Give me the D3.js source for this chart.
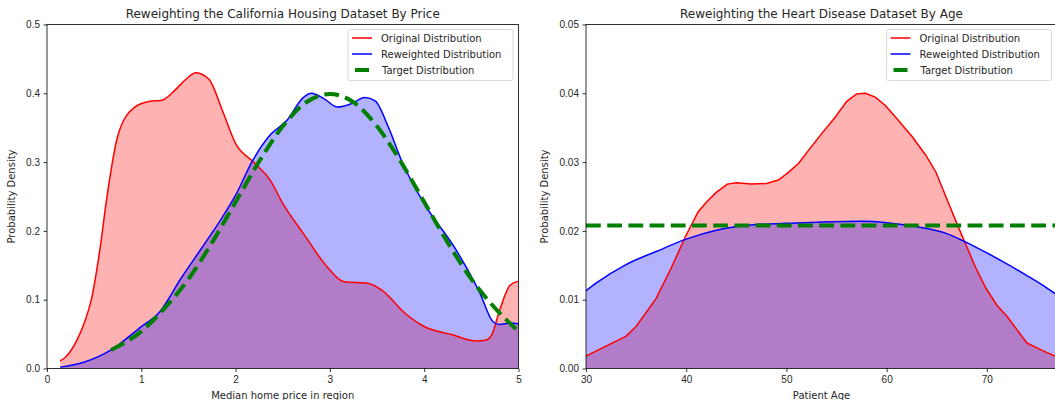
<!DOCTYPE html>
<html>
<head>
<meta charset="utf-8">
<title>Reweighting distributions</title>
<style>
  body { margin: 0; background: #fff; }
  svg { display: block; font-family: "DejaVu Sans", sans-serif; }
  .tick text { font-size: 10px; fill: #262626; }
  .tick line { stroke: #000; stroke-width: 0.8; }
  .domain { display: none; }
</style>
</head>
<body>
<svg width="1055" height="400"></svg>
<script src="https://d3js.org/d3.v7.min.js"></script>
<script>
// California housing (price, in $100k)
var housingOrigX = [0.14, 0.2, 0.32, 0.4, 0.47, 0.56, 0.63, 0.75, 0.93, 1.08, 1.22, 1.36, 1.47, 1.58, 1.72, 1.86, 2.0, 2.19, 2.37, 2.5, 2.72, 2.97, 3.15, 3.4, 3.55, 3.8, 4.0, 4.3, 4.55, 4.65, 4.72, 4.8, 4.91, 5.0];
var housingOrigY = [0.011, 0.017, 0.042, 0.068, 0.1, 0.172, 0.244, 0.338, 0.38, 0.388, 0.39, 0.405, 0.42, 0.43, 0.42, 0.375, 0.327, 0.3, 0.273, 0.24, 0.196, 0.148, 0.126, 0.124, 0.114, 0.08, 0.061, 0.049, 0.04, 0.041, 0.05, 0.085, 0.121, 0.127];
var housingReweightX = [0.14, 0.39, 0.68, 1.0, 1.18, 1.43, 1.65, 1.86, 2.0, 2.18, 2.37, 2.54, 2.72, 2.8, 2.94, 3.08, 3.23, 3.37, 3.48, 3.62, 3.76, 3.98, 4.34, 4.59, 4.73, 4.8, 4.91, 5.0];
var housingReweightY = [0.002, 0.009, 0.027, 0.061, 0.08, 0.133, 0.177, 0.22, 0.252, 0.302, 0.34, 0.36, 0.394, 0.4, 0.392, 0.38, 0.385, 0.394, 0.389, 0.351, 0.302, 0.244, 0.172, 0.11, 0.068, 0.064, 0.066, 0.065];
var housingTargetX = [0.68, 1.0, 1.25, 1.5, 1.75, 2.0, 2.25, 2.5, 2.75, 3.0, 3.25, 3.5, 3.75, 4.0, 4.25, 4.5, 4.75, 5.0];
var housingTargetY = [0.027, 0.054, 0.088, 0.13, 0.183, 0.242, 0.301, 0.352, 0.387, 0.399, 0.387, 0.352, 0.301, 0.242, 0.183, 0.13, 0.088, 0.054];
var housingXTicks = [0, 1, 2, 3, 4, 5];
var housingYTicks = [0, 0.1, 0.2, 0.3, 0.4, 0.5];

// Heart disease (age)
var heartOrigX = [30, 34, 35, 37, 38.5, 40, 41.2, 42.1, 43, 44.1, 45, 46.5, 48, 49.2, 50.2, 51.2, 52.2, 53.5, 54.9, 56, 57, 57.9, 58.9, 59.9, 61.2, 62.6, 63.9, 64.9, 66.1, 67.2, 68.2, 68.9, 69.9, 71, 72, 74, 75, 76, 77];
var heartOrigY = [0.0018, 0.0047, 0.0061, 0.0102, 0.0146, 0.0194, 0.0228, 0.0243, 0.0256, 0.0268, 0.027, 0.0268, 0.0269, 0.0274, 0.0285, 0.0298, 0.0317, 0.0341, 0.0366, 0.0388, 0.0399, 0.04, 0.0394, 0.0382, 0.036, 0.0336, 0.031, 0.0286, 0.0243, 0.0204, 0.017, 0.0146, 0.0117, 0.0092, 0.0076, 0.0037, 0.003, 0.0023, 0.0017];
var heartReweightX = [30, 31, 34, 37, 40, 43, 46.7, 50, 53.5, 57.5, 60, 63, 66, 68, 70, 72, 74, 76, 77];
var heartReweightY = [0.0113, 0.0124, 0.0151, 0.017, 0.0188, 0.0201, 0.0209, 0.0211, 0.0213, 0.0214, 0.0212, 0.0206, 0.0196, 0.0183, 0.0168, 0.0152, 0.0135, 0.0117, 0.0107];
var heartTargetX = [30, 77];
var heartTargetY = [0.0208, 0.0208];
var heartXTicks = [30, 40, 50, 60, 70];
var heartYTicks = [0, 0.01, 0.02, 0.03, 0.04, 0.05];

var seriesNames = ["Original Distribution", "Reweighted Distribution", "Target Distribution"];

var svg = d3.select("svg");
var top_ = 24.5, bottom = 368.5;

function zip(xs, ys) {
    return xs.map(function(x, i) { return {x: x, y: ys[i]}; });
}

function drawPanel(cfg) {
    var x = d3.scaleLinear().domain(cfg.xDomain).range([cfg.left, cfg.right]);
    var y = d3.scaleLinear().domain(cfg.yDomain).range([bottom, top_]);
    var g = svg.append("g");

    var clipId = "clip" + cfg.id;
    svg.append("clipPath").attr("id", clipId)
        .append("rect")
        .attr("x", cfg.left).attr("y", top_)
        .attr("width", cfg.right - cfg.left).attr("height", bottom - top_);

    var plot = g.append("g").attr("clip-path", "url(#" + clipId + ")");

    var area = d3.area().x(d => x(d.x)).y0(y(0)).y1(d => y(d.y)).curve(cfg.curveOrig);
    var areaRw = d3.area().x(d => x(d.x)).y0(y(0)).y1(d => y(d.y)).curve(cfg.curveRw);
    var line = d3.line().x(d => x(d.x)).y(d => y(d.y)).curve(cfg.curveOrig);
    var lineRw = d3.line().x(d => x(d.x)).y(d => y(d.y)).curve(cfg.curveRw);
    var lineT = d3.line().x(d => x(d.x)).y(d => y(d.y)).curve(d3.curveMonotoneX);

    var orig = zip(cfg.origX, cfg.origY);
    var rw = zip(cfg.rwX, cfg.rwY);
    var tgt = zip(cfg.tX, cfg.tY);

    plot.append("path").attr("d", area(orig)).attr("fill", "red").attr("fill-opacity", 0.3);
    plot.append("path").attr("d", areaRw(rw)).attr("fill", "blue").attr("fill-opacity", 0.3);
    plot.append("path").attr("d", line(orig)).attr("fill", "none").attr("stroke", "red").attr("stroke-width", 1.5);
    plot.append("path").attr("d", lineRw(rw)).attr("fill", "none").attr("stroke", "blue").attr("stroke-width", 1.5);
    plot.append("path").attr("d", lineT(tgt)).attr("fill", "none").attr("stroke", "green")
        .attr("stroke-width", 4).attr("stroke-dasharray", "14.8 6.4");

    // axes
    g.append("g").attr("transform", "translate(0," + bottom + ")")
        .call(d3.axisBottom(x).tickValues(cfg.xTicks).tickSize(3.5).tickPadding(3.5).tickFormat(d3.format("d")));
    g.append("g").attr("transform", "translate(" + cfg.left + ",0)")
        .call(d3.axisLeft(y).tickValues(cfg.yTicks).tickSize(3.5).tickPadding(3.5).tickFormat(d3.format(cfg.yFmt)));

    // spines
    g.append("rect").attr("x", cfg.left).attr("y", top_)
        .attr("width", cfg.right - cfg.left).attr("height", bottom - top_)
        .attr("fill", "none").attr("stroke", "#000").attr("stroke-width", 0.8);

    var cx = (cfg.left + cfg.right) / 2;
    g.append("text").attr("x", cx).attr("y", 18).attr("text-anchor", "middle")
        .attr("font-size", 12).attr("fill", "#262626").text(cfg.title);
    g.append("text").attr("x", cx).attr("y", 399).attr("text-anchor", "middle")
        .attr("font-size", 10).attr("fill", "#262626").text(cfg.xLabel);
    g.append("text").attr("transform", "translate(" + cfg.yLabelX + "," + ((top_ + bottom) / 2) + ") rotate(-90)")
        .attr("text-anchor", "middle").attr("font-size", 10).attr("fill", "#262626").text("Probability Density");

    // legend
    var lw = 165, lh = 51;
    var lx = cfg.legendRight - lw, ly = top_ + 5;
    var leg = g.append("g");
    leg.append("rect").attr("x", lx).attr("y", ly).attr("width", lw).attr("height", lh)
        .attr("rx", 2).attr("fill", "#fff").attr("fill-opacity", 0.8)
        .attr("stroke", "#d0d0d0").attr("stroke-width", 0.8);
    var colors = ["red", "blue", "green"];
    seriesNames.forEach(function(name, i) {
        var ry = ly + 8.5 + i * 16;
        if (i < 2) {
            leg.append("line").attr("x1", lx + 4).attr("x2", lx + 24).attr("y1", ry).attr("y2", ry)
                .attr("stroke", colors[i]).attr("stroke-width", 1.5);
        } else {
            leg.append("line").attr("x1", lx + 7).attr("x2", lx + 21).attr("y1", ry).attr("y2", ry)
                .attr("stroke", colors[i]).attr("stroke-width", 4);
        }
        leg.append("text").attr("x", lx + 33 + (i == 2 ? 1 : 0)).attr("y", ry + 3.6)
            .attr("font-size", 10).attr("fill", "#262626").text(name);
    });
}

drawPanel({
    id: 1, left: 47, right: 518.5,
    xDomain: [0, 5], yDomain: [0, 0.5],
    origX: housingOrigX, origY: housingOrigY,
    rwX: housingReweightX, rwY: housingReweightY,
    tX: housingTargetX, tY: housingTargetY,
    curveOrig: d3.curveMonotoneX, curveRw: d3.curveMonotoneX,
    xTicks: housingXTicks, yTicks: housingYTicks, yFmt: ".1f",
    title: "Reweighting the California Housing Dataset By Price",
    xLabel: "Median home price in region", yLabelX: 15,
    legendRight: 513
});

drawPanel({
    id: 2, left: 586, right: 1057,
    xDomain: [30, 77], yDomain: [0, 0.05],
    origX: heartOrigX, origY: heartOrigY,
    rwX: heartReweightX, rwY: heartReweightY,
    tX: heartTargetX, tY: heartTargetY,
    curveOrig: d3.curveLinear, curveRw: d3.curveMonotoneX,
    xTicks: heartXTicks, yTicks: heartYTicks, yFmt: ".2f",
    title: "Reweighting the Heart Disease Dataset By Age",
    xLabel: "Patient Age", yLabelX: 548,
    legendRight: 1051.5
});
</script>
</body>
</html>
